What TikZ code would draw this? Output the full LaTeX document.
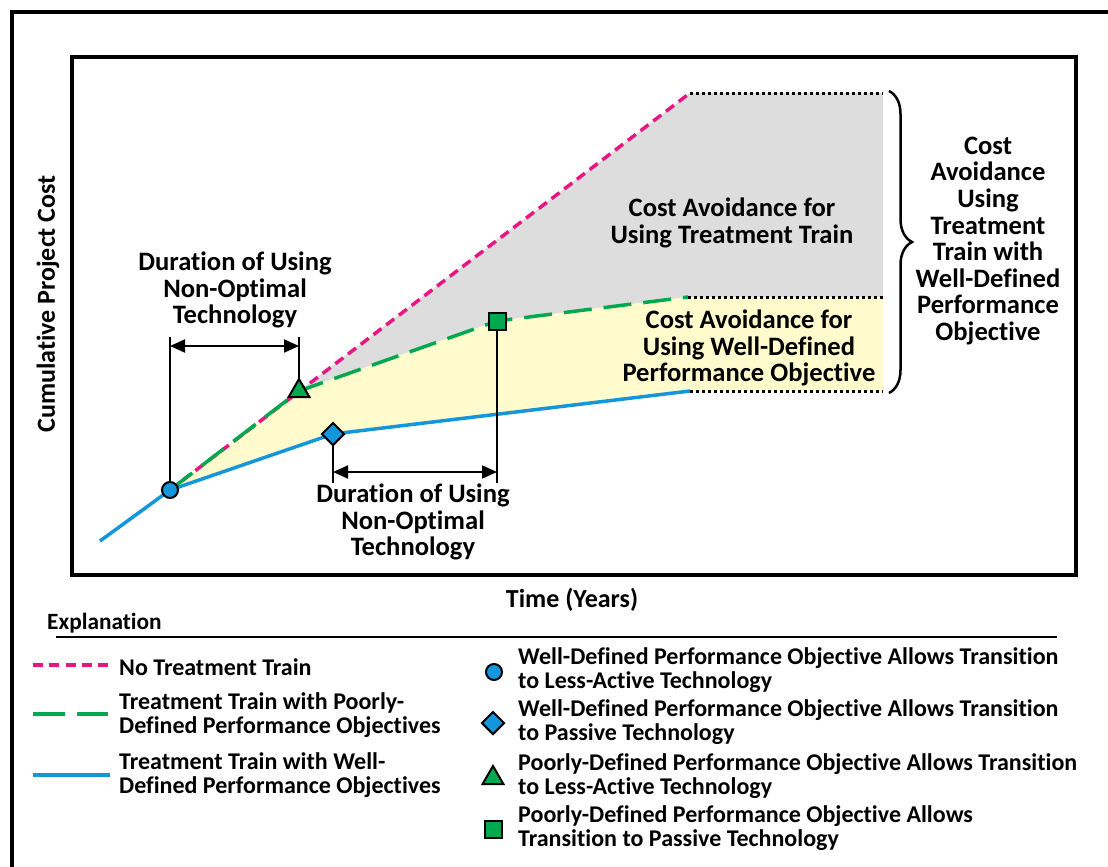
\documentclass[tikz,border=0pt]{standalone}
\usepackage{fontspec}
\setmainfont{Carlito}[Ligatures={NoCommon}]
\usetikzlibrary{arrows.meta,shapes.geometric,decorations.pathreplacing}
\definecolor{pinkc}{RGB}{230,22,130}
\definecolor{greenc}{RGB}{0,168,80}
\definecolor{bluec}{RGB}{20,150,220}
\definecolor{grayf}{RGB}{221,221,221}
\definecolor{yellowf}{RGB}{255,251,204}
\begin{document}
\begin{tikzpicture}[x=1pt,y=-1pt,
  lbl/.style={font=\fontsize{26.6}{26.6}\selectfont\bfseries, align=center, inner sep=0pt},
  axl/.style={font=\fontsize{26}{26.6}\selectfont\bfseries, inner sep=0pt},
  leg/.style={font=\fontsize{24}{24}\selectfont\bfseries, align=left, inner sep=0pt, anchor=west},
  pinkline/.style={pinkc, line width=3.5pt, dash pattern=on 10pt off 6pt},
  greenline/.style={greenc, line width=3.5pt, dash pattern=on 28pt off 12pt},
  blueline/.style={bluec, line width=3.5pt},
  dotline/.style={black, line width=3pt, dash pattern=on 3pt off 3pt},
  frame/.style={black, line width=4pt},
  brk/.style={black, line width=2pt},
  dim/.style={black, line width=2pt, {Triangle[length=15pt,width=13pt]}-{Triangle[length=15pt,width=13pt]}},
  mk/.style={draw=black, line width=2pt, inner sep=0pt},
  circm/.style={mk, circle, fill=bluec, minimum size=16pt},
  diam/.style={mk, diamond, fill=bluec, minimum size=23pt},
  trim/.style={mk, regular polygon, regular polygon sides=3, fill=greenc, minimum size=24pt},
  sqm/.style={mk, rectangle, fill=greenc, minimum size=17pt}
]
\useasboundingbox (0,0) rectangle (1108,867);
% outer frame (only top and left visible)
\coordinate (otr) at (1108,12);
\coordinate (otl) at (12,12);
\coordinate (obl) at (12,867);
\draw[frame] (otr) -- (otl) -- (obl);
% inner frame
\coordinate (ia) at (72,57);
\coordinate (ib) at (1076,575);
\draw[frame] (ia) rectangle (ib);

% key points
\coordinate (st) at (100,541);
\coordinate (pc) at (170,490);
\coordinate (pt) at (299,391);
\coordinate (pd) at (333,434);
\coordinate (ps) at (497,321);
\coordinate (pe) at (690,93);
\coordinate (ge) at (688,297);
\coordinate (be) at (690,391);
\coordinate (rt) at (883,93);
\coordinate (rm) at (883,297);
\coordinate (rb) at (883,391);

% fills
\fill[grayf] (pt) -- (pe) -- (rt) -- (rm) -- (ge) -- (ps) -- cycle;
\fill[yellowf] (pc) -- (pt) -- (ps) -- (ge) -- (rm) -- (rb) -- (be) -- (pd) -- cycle;

% curves
\draw[blueline] (st) -- (pc) -- (pd) -- (be);
\draw[pinkline] (pc) -- (pe);
\draw[greenline] (pc) -- (pt) -- (ps) -- (ge);

% dotted extensions
\draw[dotline] (pe) -- (rt);
\draw[dotline] (ge) -- (rm);
\draw[dotline] (be) -- (rb);

% brace
\coordinate (bt) at (889,91);
\coordinate (bb) at (889,393);
\draw[black, line width=2.5pt, decorate, decoration={brace, amplitude=23pt}] (bt) -- (bb);

% dimension brackets (top)
\coordinate (d1a) at (170,337);
\coordinate (d1b) at (299,337);
\coordinate (d1c) at (299,382);
\draw[brk] (d1a) -- (pc);
\draw[brk] (d1b) -- (d1c);
\coordinate (a1l) at (170,346);
\coordinate (a1r) at (299,346);
\draw[dim] (a1l) -- (a1r);
% dimension brackets (bottom)
\coordinate (d2a) at (333,483);
\coordinate (d2b) at (497,483);
\draw[brk] (pd) -- (d2a);
\draw[brk] (ps) -- (d2b);
\coordinate (a2l) at (333,472);
\coordinate (a2r) at (497,472);
\draw[dim] (a2l) -- (a2r);

% markers
\node[circm] (c1) at (pc) {};
\node[trim] (t1) at (pt) {};
\node[diam] (dm1) at (pd) {};
\node[sqm] (s1) at (ps) {};

% chart labels
\node[lbl] (tA) at (732,223) {Cost Avoidance for\\Using Treatment Train};
\node[lbl] (tB) at (749,348) {Cost Avoidance for\\Using Well-Defined\\Performance Objective};
\node[lbl] (tC) at (988,241) {Cost\\Avoidance\\Using\\Treatment\\Train with\\Well-Defined\\Performance\\Objective};
\node[lbl] (tD) at (235,290) {Duration of Using\\Non-Optimal\\Technology};
\node[lbl] (tE) at (413,522) {Duration of Using\\Non-Optimal\\Technology};

% axis titles
\node[axl] (xt) at (572,600) {Time (Years)};
\node[axl, rotate=90] (yt) at (48,304) {Cumulative Project Cost};

% legend
\node[font=\fontsize{23.3}{24}\selectfont\bfseries, inner sep=0pt, anchor=west] (ex) at (47,623) {Explanation};
\coordinate (ul1) at (56,636.5);
\coordinate (ul2) at (1057,636.5);
\draw[black, line width=2pt] (ul1) -- (ul2);

\coordinate (lp1) at (33,665); \coordinate (lp2) at (108,665);
\coordinate (lg1) at (33,714); \coordinate (lg2) at (108,714);
\coordinate (lb1) at (33,775); \coordinate (lb2) at (110,775);
\draw[pinkc, line width=3.5pt, dash pattern=on 10pt off 6.25pt] (lp1) -- (lp2);
\draw[greenc, line width=3.5pt, dash pattern=on 32pt off 12pt] (lg1) -- (lg2);
\draw[blueline] (lb1) -- (lb2);
\node[leg] (l1) at (119,667) {No Treatment Train};
\node[leg] (l2) at (119,715) {Treatment Train with Poorly-\\Defined Performance Objectives};
\node[leg] (l3) at (119,775) {Treatment Train with Well-\\Defined Performance Objectives};

\node[circm] (lm1) at (494,672) {};
\node[diam] (lm2) at (493,723) {};
\node[trim] (lm3) at (493,778) {};
\node[sqm] (lm4) at (493,829) {};
\node[leg] (r1) at (518,670.5) {Well-Defined Performance Objective Allows Transition\\to Less-Active Technology};
\node[leg] (r2) at (518,722) {Well-Defined Performance Objective Allows Transition\\to Passive Technology};
\node[leg] (r3) at (518,776) {Poorly-Defined Performance Objective Allows Transition\\to Less-Active Technology};
\node[leg] (r4) at (518,828.5) {Poorly-Defined Performance Objective Allows\\Transition to Passive Technology};
\end{tikzpicture}
\end{document}
